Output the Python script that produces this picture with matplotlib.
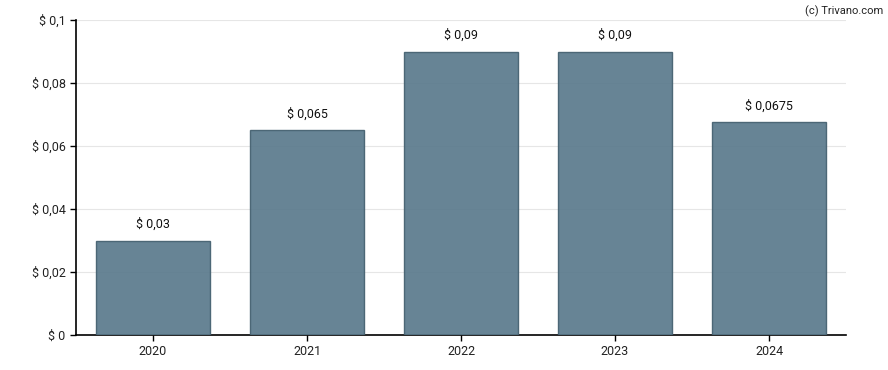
import matplotlib
matplotlib.use('Agg')
import matplotlib.pyplot as plt

plt.rcParams['font.family'] = ['Roboto', 'DejaVu Sans']
plt.rcParams['font.size'] = 9

years = ['2020', '2021', '2022', '2023', '2024']
dividends = [0.03, 0.065, 0.09, 0.09, 0.0675]
labels = ['$ 0,03', '$ 0,065', '$ 0,09', '$ 0,09', '$ 0,0675']
yticks = [0, 0.02, 0.04, 0.06, 0.08, 0.1]
ytick_labels = ['$ 0', '$ 0,02', '$ 0,04', '$ 0,06', '$ 0,08', '$ 0,1']

fig = plt.figure(figsize=(8.88, 3.7), dpi=100)
ax = fig.add_axes([76/888, 35/370, 770/888, 315/370])

x = range(len(years))
ax.bar(x, dividends, width=0.745, color='#5a7a8c', alpha=0.92,
       edgecolor='#44606f', linewidth=1, zorder=3)
for i, (v, lab) in enumerate(zip(dividends, labels)):
    ax.annotate(lab, (i, v), xytext=(0, 7), textcoords='offset points',
                ha='center', va='bottom', color='#111111')

ax.set_xlim(-0.5, len(years) - 0.5)
ax.set_ylim(0, 0.1)
ax.set_xticks(list(x))
ax.set_xticklabels(years)
ax.set_yticks(yticks)
ax.set_yticklabels(ytick_labels)
ax.yaxis.grid(True, color='#e6e6e6', lw=0.8, zorder=0)
ax.set_axisbelow(True)
for s in ['top', 'right']:
    ax.spines[s].set_visible(False)
ax.spines['left'].set_linewidth(1.2)
ax.spines['bottom'].set_linewidth(1.2)
ax.tick_params(axis='both', length=4, width=1, colors='black', labelcolor='#222222')

fig.text(0.995, 0.985, '(c) Trivano.com', ha='right', va='top', fontsize=8, color='#222222')

fig.savefig('out.png', dpi=100)
